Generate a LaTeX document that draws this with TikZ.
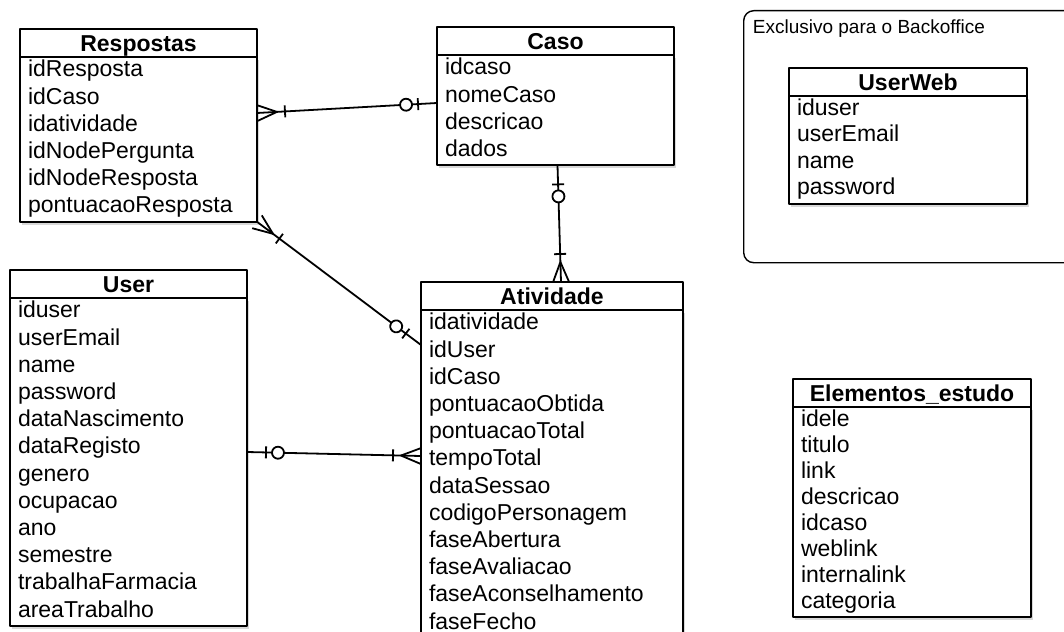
\documentclass[tikz,border=0pt]{standalone}
\usepackage{fontspec}
\setmainfont{Liberation Sans}
\usetikzlibrary{positioning,calc,shadows,decorations.markings}

\tikzset{
  enttitle/.style={draw,fill=white,minimum width=#1,minimum height=28pt,
    inner sep=0pt,outer sep=0pt,text height=16.5pt,text depth=0pt,
    font=\fontsize{23}{27.2}\selectfont\bfseries},
  entbody/.style={draw,fill=white,align=left,text width=#1,
    inner xsep=8pt,inner ysep=0.8pt,outer sep=0pt,
    font=\fontsize{23}{27.2}\selectfont,
    execute at begin node=\strut,execute at end node=\strut,
    drop shadow={shadow xshift=1.5pt,shadow yshift=-3pt,opacity=.3}},
  zero one start/.style={postaction={decorate,decoration={markings,
    mark=at position 19pt with {\draw (0,-6pt) -- (0,6pt);},
    mark=at position 31pt with {\draw[fill=white] (0,0) circle (6pt);}}}},
  zero one end/.style={postaction={decorate,decoration={markings,
    mark=at position -19pt with {\draw (0,-6pt) -- (0,6pt);},
    mark=at position -31pt with {\draw[fill=white] (0,0) circle (6pt);}}}},
  one many start/.style={postaction={decorate,decoration={markings,
    mark=at position 20pt with {\draw (-20pt,8pt) -- (0,0) -- (-20pt,-8pt);},
    mark=at position 28pt with {\draw (0,-6pt) -- (0,6pt);}}}},
  one many end/.style={postaction={decorate,decoration={markings,
    mark=at position -20pt with {\draw (20pt,8pt) -- (0,0) -- (20pt,-8pt);},
    mark=at position -28pt with {\draw (0,-6pt) -- (0,6pt);}}}},
}

\begin{document}
\begin{tikzpicture}[x=1pt,y=-1pt,line width=1.8pt,line join=round]
  \clip (0,0) rectangle (1064,631);
  \fill[white] (0,0) rectangle (1064,631);

  % area of the backoffice
  \node[draw,line width=1.4pt,rounded corners=10pt,anchor=north west,
    minimum width=350pt,minimum height=252pt] (backoffice) at (743,10) {};
  \node[anchor=north west,inner sep=0pt,font=\fontsize{19}{22}\selectfont]
    (backoffice-label) at ($(backoffice.north west)+(9,9)$) {Exclusivo para o Backoffice};

  % tables
  \node[enttitle=237pt,anchor=north west] (resp) at (20,29) {Respostas};
  \node[entbody=221pt,below=0pt of resp] (resp-b)
    {idResposta\\idCaso\\idatividade\\idNodePergunta\\idNodeResposta\\pontuacaoResposta};

  \node[enttitle=237pt,anchor=north west] (caso) at (437,27) {Caso};
  \node[entbody=221pt,below=0pt of caso] (caso-b)
    {idcaso\\nomeCaso\\descricao\\dados};

  \node[enttitle=237pt,anchor=north west] (user) at (10,270) {User};
  \node[entbody=221pt,below=0pt of user] (user-b)
    {iduser\\userEmail\\name\\password\\dataNascimento\\dataRegisto\\genero\\ocupacao\\ano\\semestre\\trabalhaFarmacia\\areaTrabalho};

  \node[enttitle=262pt,anchor=north west] (atv) at (421,282) {Atividade};
  \node[entbody=246pt,below=0pt of atv] (atv-b)
    {idatividade\\idUser\\idCaso\\pontuacaoObtida\\pontuacaoTotal\\tempoTotal\\dataSessao\\codigoPersonagem\\faseAbertura\\faseAvaliacao\\faseAconselhamento\\faseFecho};

  \node[enttitle=238pt,anchor=north west] (uweb) at (789,68) {UserWeb};
  \node[entbody=222pt,below=0pt of uweb,font=\fontsize{23}{26.5}\selectfont] (uweb-b)
    {iduser\\userEmail\\name\\password};

  \node[enttitle=238pt,anchor=north west] (elem) at (793,379) {Elementos\_estudo};
  \node[entbody=222pt,below=0pt of elem,font=\fontsize{23}{26}\selectfont] (elem-b)
    {idele\\titulo\\link\\descricao\\idcaso\\weblink\\internalink\\categoria};

  % relations
  \draw[one many start,zero one end]
    ($(resp-b.north east)+(0,56)$) -- ($(caso-b.north west)+(0,48)$);
  \draw[one many start,zero one end]
    (resp-b.south east) -- ($(atv-b.north west)+(0,35)$);
  \draw[zero one start,one many end]
    ($(caso-b.south)+(2,0)$) -- ($(atv.north)+(9,0)$);
  \draw[zero one start,one many end]
    ($(user-b.north east)+(0,154)$) -- ($(atv-b.north west)+(0,146)$);
\end{tikzpicture}
\end{document}
